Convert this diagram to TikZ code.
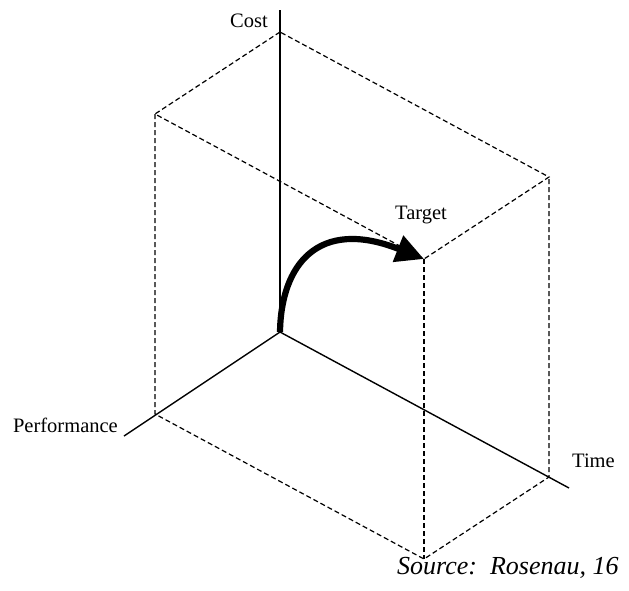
\documentclass[tikz,border=0pt]{standalone}
\usepackage{fontspec}
\setmainfont{Liberation Serif}
\usetikzlibrary{arrows.meta}
\tikzset{
  axis/.style={line width=1.4pt},
  edge/.style={line width=1.2pt, dash pattern=on 5pt off 3pt},
  lbl/.style={inner sep=0pt, font=\fontsize{20.5}{24}\selectfont},
  bigarrow/.style={line width=6.2pt, -{Triangle[length=28pt,width=27pt]}}
}
\begin{document}
\begin{tikzpicture}[x=1pt,y=-1pt]
\useasboundingbox (0,0) rectangle (629,590);
% vertices
\coordinate (O) at (280,332);
\coordinate (C) at (280,10);
\coordinate (P) at (124,436);
\coordinate (T) at (569,488);
\coordinate (tb) at (280,32);
\coordinate (tl) at (155,114);
\coordinate (tr) at (549,177);
\coordinate (tf) at (424,259);
\coordinate (bl) at (155,414);
\coordinate (br) at (549,477);
\coordinate (bf) at (424,559);
% dashed box
\draw[edge] (tb) -- (tl) -- (tf) -- (tr) -- (tb);
\draw[edge] (tl) -- (bl) -- (bf) -- (br) -- (tr);
\draw[edge] (tf) -- (bf);
% axes
\draw[axis] (O) -- (C);
\draw[axis] (O) -- (P);
\draw[axis] (O) -- (T);
% arrow
\draw[bigarrow] (O) .. controls (281,265) and (318,217) .. (tf);
% labels
\node[lbl, anchor=base east] (cost) at (268,27) {Cost};
\node[lbl, anchor=base east] (perf) at (118,432) {Performance};
\node[lbl, anchor=base west] (target) at (395,219) {Target};
\node[lbl, anchor=base west] (time) at (572,467) {Time};
\node[inner sep=0pt, anchor=base west, font=\fontsize{26}{30}\selectfont\itshape] (src) at (397,574) {Source:\ \ Rosenau, 16};
\end{tikzpicture}
\end{document}
